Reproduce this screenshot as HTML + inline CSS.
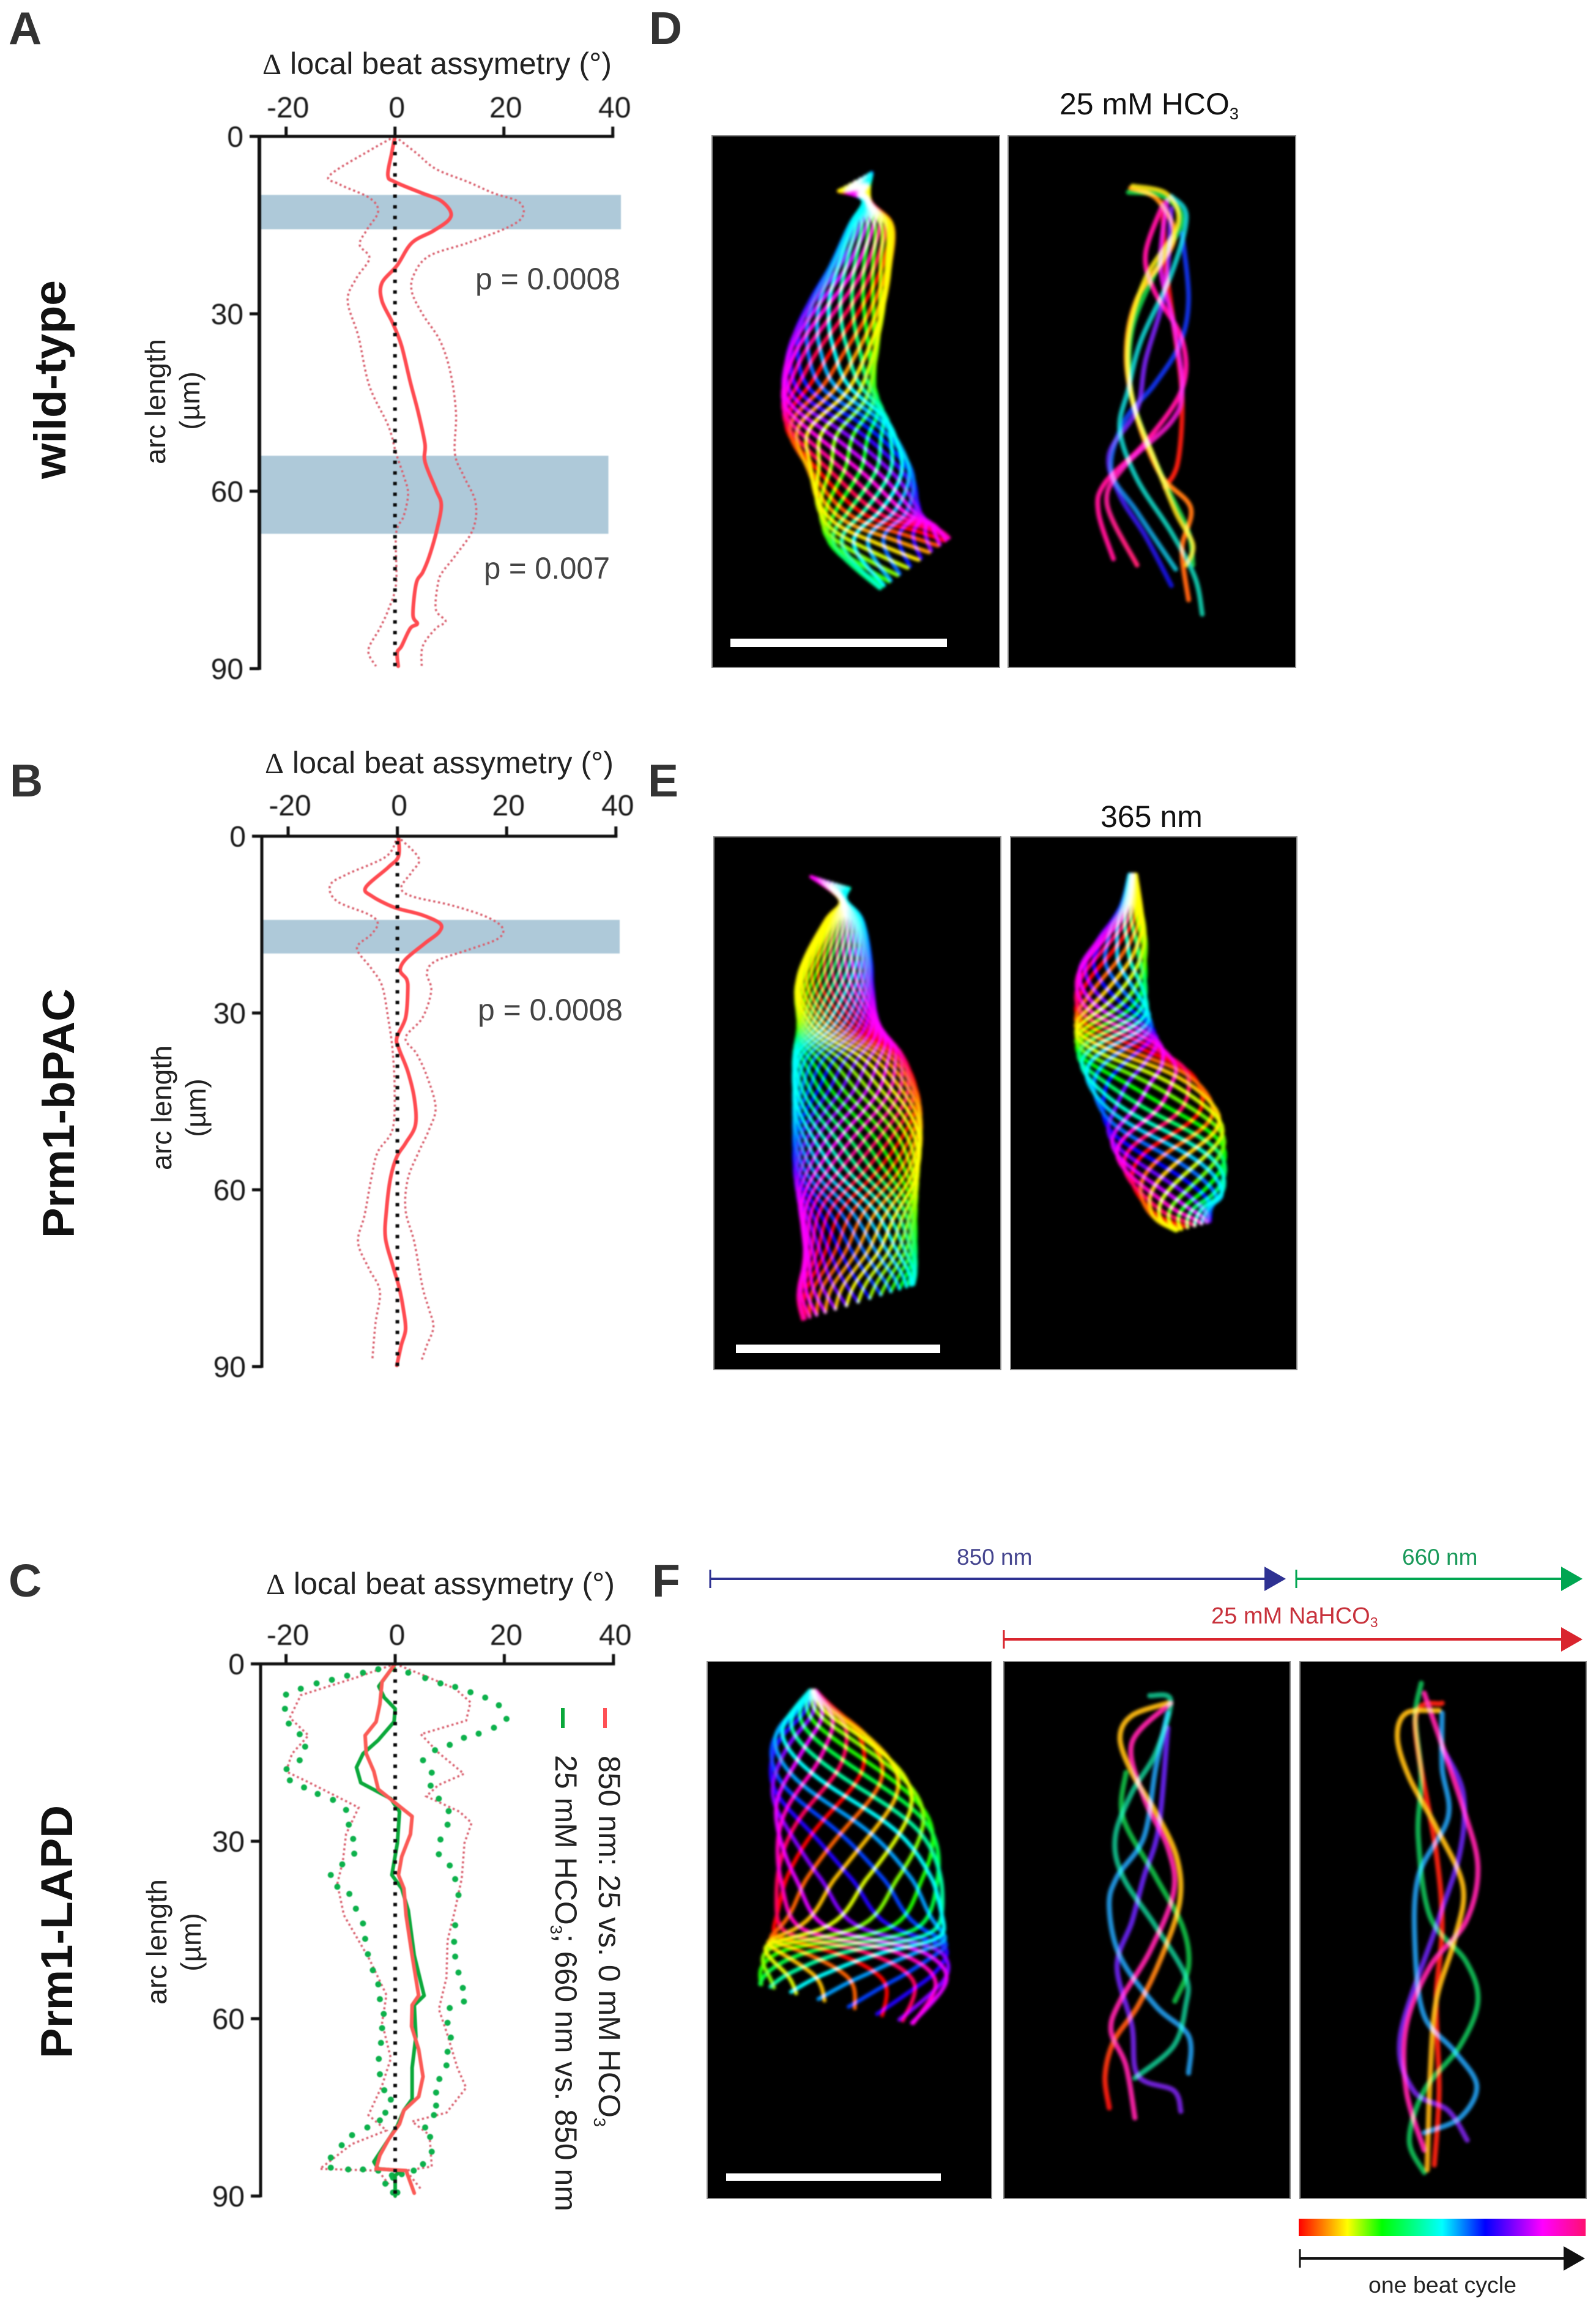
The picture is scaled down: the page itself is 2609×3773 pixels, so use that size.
<!DOCTYPE html>
<html lang="en">
<head>
<meta charset="utf-8">
<title>Local beat asymmetry and flagellar waveforms</title>
<style>
html,body{margin:0;padding:0;background:#fff;width:2609px;height:3773px;overflow:hidden}
svg{display:block;position:absolute;left:0;top:0}
text{font-family:"Liberation Sans",sans-serif;fill:#1c1c1c}
.delta{font-family:"Liberation Serif",serif;font-size:48px}
.letter{font-size:75px;font-weight:bold;fill:#333}
.rowtitle{font-size:73px;font-weight:bold;fill:#111}
.axt{font-size:50px;fill:#222}
.arc{font-size:46px;fill:#222}
.pval{font-size:50px;fill:#444}
.cond{font-size:50px;fill:#111}
.legend{font-size:50px;fill:#222}
.tick{font-size:48px;fill:#1a1a1a}
</style>
</head>
<body>
<svg id="figure" xmlns="http://www.w3.org/2000/svg" width="2609" height="3773" viewBox="0 0 2609 3773">
  <defs>
    <filter id="soft" filterUnits="userSpaceOnUse" x="1100" y="180" width="1509" height="3500" color-interpolation-filters="sRGB"><feGaussianBlur stdDeviation="2.4"/></filter>
    <filter id="lineSoft" filterUnits="userSpaceOnUse" x="0" y="0" width="1300" height="3773" color-interpolation-filters="sRGB"><feGaussianBlur stdDeviation="0.8"/></filter>
    <linearGradient id="rainbow" x1="0" x2="1" y1="0" y2="0">
      <stop offset="0" stop-color="#ff0000"/><stop offset="0.17" stop-color="#ffff00"/><stop offset="0.29" stop-color="#00ff00"/><stop offset="0.5" stop-color="#00ffff"/><stop offset="0.65" stop-color="#0000ff"/><stop offset="0.85" stop-color="#ff00ff"/><stop offset="1" stop-color="#ff1070"/>
    </linearGradient>
  </defs>
  <rect width="2609" height="3773" fill="#fff"/>

  <text class="letter" x="14" y="72">A</text>
  <text class="letter" x="16" y="1302">B</text>
  <text class="letter" x="14" y="2610">C</text>
  <text class="letter" x="1061" y="72">D</text>
  <text class="letter" x="1059" y="1302">E</text>
  <text class="letter" x="1066" y="2610">F</text>

  <text class="rowtitle" transform="translate(107,783) rotate(-90)" textLength="325" lengthAdjust="spacingAndGlyphs">wild-type</text>
  <text class="rowtitle" transform="translate(121,2024) rotate(-90)" textLength="408" lengthAdjust="spacingAndGlyphs">Prm1-bPAC</text>
  <text class="rowtitle" transform="translate(118,3365) rotate(-90)" textLength="414" lengthAdjust="spacingAndGlyphs">Prm1-LAPD</text>

  <g id="chart-a" filter="url(#lineSoft)"></g>
  <g id="chart-b" filter="url(#lineSoft)"></g>
  <g id="chart-c" filter="url(#lineSoft)"></g>

  <text class="axt" x="429" y="121" textLength="571" lengthAdjust="spacingAndGlyphs"><tspan class="delta">Δ</tspan> local beat assymetry (°)</text>
  <text class="axt" x="433" y="1264" textLength="570" lengthAdjust="spacingAndGlyphs"><tspan class="delta">Δ</tspan> local beat assymetry (°)</text>
  <text class="axt" x="435" y="2606" textLength="570" lengthAdjust="spacingAndGlyphs"><tspan class="delta">Δ</tspan> local beat assymetry (°)</text>

  <g>
    <text class="arc" transform="translate(270,759) rotate(-90)" textLength="205" lengthAdjust="spacingAndGlyphs">arc length</text>
    <text class="arc" transform="translate(326,655) rotate(-90)" text-anchor="middle">(µm)</text>
  </g>
  <g>
    <text class="arc" transform="translate(280,1913) rotate(-90)" textLength="204" lengthAdjust="spacingAndGlyphs">arc length</text>
    <text class="arc" transform="translate(336,1811) rotate(-90)" text-anchor="middle">(µm)</text>
  </g>
  <g>
    <text class="arc" transform="translate(272,3277) rotate(-90)" textLength="205" lengthAdjust="spacingAndGlyphs">arc length</text>
    <text class="arc" transform="translate(328,3175) rotate(-90)" text-anchor="middle">(µm)</text>
  </g>

  <text class="pval" x="777" y="473" textLength="237" lengthAdjust="spacingAndGlyphs">p = 0.0008</text>
  <text class="pval" x="791" y="946" textLength="206" lengthAdjust="spacingAndGlyphs">p = 0.007</text>
  <text class="pval" x="781" y="1668" textLength="237" lengthAdjust="spacingAndGlyphs">p = 0.0008</text>

  <line x1="989" x2="989" y1="2792" y2="2825" stroke="#ff5055" stroke-width="6"/>
  <text class="legend" transform="translate(979,2870) rotate(90)">850 nm: 25 vs. 0 mM HCO<tspan font-size="27" dy="8">3</tspan></text>
  <line x1="920" x2="920" y1="2792" y2="2825" stroke="#0aa83a" stroke-width="6"/>
  <text class="legend" transform="translate(908,2869) rotate(90)">25 mM HCO<tspan font-size="27" dy="8">3</tspan><tspan dy="-8">; 660 nm vs. 850 nm</tspan></text>

  <text class="cond" x="1732" y="187">25 mM HCO<tspan font-size="27" dy="8">3</tspan></text>
  <text class="cond" x="1799" y="1352">365 nm</text>

  <g id="beat-panels"></g>

  <rect x="1194" y="1044" width="354" height="14" fill="#fff"/>
  <rect x="1203" y="2198" width="334" height="14" fill="#fff"/>
  <rect x="1187" y="3553" width="351" height="12" fill="#fff"/>

  <g>
    <line x1="1161" x2="2075" y1="2581" y2="2581" stroke="#2e3192" stroke-width="4"/>
    <line x1="1161" x2="1161" y1="2566" y2="2596" stroke="#2e3192" stroke-width="3"/>
    <polygon points="2067,2561 2102,2581 2067,2601" fill="#2e3192"/>
  </g>
  <g>
    <line x1="2119" x2="2560" y1="2581" y2="2581" stroke="#00a651" stroke-width="4"/>
    <line x1="2119" x2="2119" y1="2566" y2="2596" stroke="#00a651" stroke-width="3"/>
    <polygon points="2552,2561 2587,2581 2552,2601" fill="#00a651"/>
  </g>
  <g>
    <line x1="1641" x2="2560" y1="2680" y2="2680" stroke="#d9252e" stroke-width="4"/>
    <line x1="1641" x2="1641" y1="2665" y2="2695" stroke="#d9252e" stroke-width="3"/>
    <polygon points="2552,2660 2587,2680 2552,2700" fill="#d9252e"/>
  </g>
  <text x="1564" y="2558" font-size="37" style="fill:#45458f">850 nm</text>
  <text x="2292" y="2558" font-size="37" style="fill:#1a9a5a">660 nm</text>
  <text x="1980" y="2654" font-size="38" style="fill:#c8323c">25 mM NaHCO<tspan font-size="23" dy="6">3</tspan></text>

  <rect x="2123" y="3627" width="469" height="28" fill="url(#rainbow)"/>
  <g>
    <line x1="2125" x2="2565" y1="3692" y2="3692" stroke="#111" stroke-width="4"/>
    <line x1="2125" x2="2125" y1="3677" y2="3707" stroke="#111" stroke-width="3"/>
    <polygon points="2556,3672 2591,3692 2556,3712" fill="#111"/>
  </g>
  <text x="2237" y="3748" font-size="37" style="fill:#222" textLength="242" lengthAdjust="spacingAndGlyphs">one beat cycle</text>
</svg>

<script>
// ---- chart data (arc length in µm, Δ asymmetry in degrees) ----
const xTickValues = [-20, 0, 20, 40];
const yTickValues = [0, 30, 60, 90];

const bandsA = [[9.9, 15.7, 41.5], [54, 67.2, 39.2]];
const bandsB = [[14.2, 19.9, 40.7]];

const meanA = [[0,0],[2.8,-.6],[6.6,-1.3],[7.7,0],[9.6,5],[10.8,8.3],[12.7,10.2],[14.2,9.8],[16,7],[18,3.1],[21.8,.4],[24.8,-2.4],[27.8,-2.4],[31.6,-.4],[35.4,1.2],[41.5,2.8],[46.8,4.3],[52,5.5],[55,5.5],[59.7,7.5],[62.3,8.5],[66.5,7.7],[71,6.3],[73.7,5.1],[75.6,3.9],[80.9,3.3],[82.4,4.1],[83.2,2.8],[86.2,1.2],[87.3,.4],[89.6,.6]];
const upperA = [[0,0],[2.8,3.9],[5.5,7.5],[7.7,13.4],[9.6,18.1],[11.1,22.8],[13.4,23.5],[15.3,20.9],[18,13.4],[20.2,6.3],[23.3,3.5],[26.3,3.1],[30.1,5.1],[34.6,8.3],[40,10.2],[46.8,11.2],[53.6,11],[57.4,12.6],[61.9,14.8],[66.5,14.3],[71,11],[73.7,8.7],[75.6,7.9],[80,7.5],[82,9.3],[83.2,7.5],[86.2,5.1],[89.6,4.9]];
const lowerA = [[0,0],[2.4,-4.7],[6.6,-12],[8.1,-10.2],[10.4,-4.7],[12.7,-3.1],[15.7,-5.1],[18.3,-6.5],[20.6,-4.7],[24,-7.1],[27.8,-8.7],[33.9,-6.7],[42.2,-4.7],[49,-1.2],[53.6,.2],[57.4,1.6],[60.4,2.4],[64.2,1.6],[67.2,.2],[75.6,.2],[80,-1.2],[83.2,-2.8],[86.9,-4.9],[89.6,-3.5]];

const meanB = [[0,.2],[3.4,.2],[5.3,-1.7],[8.7,-5.8],[10.2,-4.6],[12.1,-.5],[13.3,4.3],[14.8,7.8],[16.3,7.6],[18.2,5],[20.9,1.5],[22.8,.5],[24.3,1.7],[26.2,1.9],[30.8,1.5],[34.2,-.1],[36.1,.3],[39.9,1.9],[44.5,3.1],[49,3.3],[52.1,1.5],[54.4,-.1],[58.2,-1.3],[63.5,-2],[68.1,-2.2],[72.7,-.9],[76.5,.3],[80.3,1.1],[83.7,1.5],[86.4,.7],[89.8,-.1]];
const upperB = [[0,0],[3.7,3.9],[6,2.7],[8.7,.7],[10.2,2.7],[11.7,9.8],[13.6,16.1],[15.5,19.2],[17.4,18.4],[19.3,12.9],[21.2,7],[23.2,5.4],[26.2,6.2],[30.8,4.6],[34.2,1.5],[36.9,3.5],[40.7,5.4],[46,7],[49.8,5.8],[53.6,3.9],[58.2,1.9],[63.5,1.5],[68.9,3.1],[76.5,4.6],[80.3,5.8],[83.3,6.6],[86.4,5.4],[89,4.4]];
const lowerB = [[0,0],[3.4,-2],[6.4,-9.1],[8.3,-12.3],[11,-11.1],[13.3,-5.2],[14.8,-3.6],[16.7,-4.8],[19,-7.4],[22.4,-4.8],[25.4,-2.8],[30.8,-1.7],[36.1,-.9],[43,-.5],[49.8,-.9],[53.6,-3.6],[58.2,-4.8],[64.3,-6],[68.9,-7.2],[73.4,-5.2],[77.2,-3.2],[82.6,-4],[89,-4.6]];

const meanC850 = [[0,0],[3,-2.4],[6.8,-2.8],[9.8,-3.5],[12.1,-5.5],[15.2,-5.3],[18.2,-3.9],[21.2,-3.1],[23.5,0],[25.8,3.1],[28.8,2.8],[32.6,1.2],[35.7,.6],[38,1.6],[42.5,2],[49.3,3.1],[56.1,4.3],[57.7,3.1],[61.3,3],[65.2,4.3],[69.8,5.1],[73.2,4.3],[75.5,1.6],[77.8,.8],[80.4,-1.2],[83.1,-2.8],[85.4,-3.5],[85.7,2],[89.5,3.5]];
const upperC850 = [[0,0],[1.9,5.1],[4.2,11],[6.5,13.8],[9.6,13],[11.9,4.7],[15,7.9],[18.6,12.6],[20.5,7.9],[22.4,5.7],[25,11.8],[26.9,14],[30.3,12.7],[36.3,12.2],[41.5,11],[46.8,9.6],[53.1,9.4],[58.4,8],[62.2,9.4],[68.3,11.4],[71.7,13],[75.9,9.4],[77.4,3.1],[79.7,6.3],[85,6.7],[85.7,2],[88.8,4.7]];
const lowerC850 = [[0,0],[2.3,-7.1],[5.3,-17.3],[9.1,-19.3],[12.1,-15.9],[15.2,-18.9],[18.2,-20],[20.1,-15.7],[24.3,-6.7],[28.8,-9],[33.4,-9.6],[37.2,-10.6],[42.5,-9.4],[50,-4.7],[56,-1.6],[60.7,-2.4],[66.7,-.8],[71.3,-2.4],[76.3,-4.9],[78.9,-1.6],[81.2,-7.9],[85.4,-13.8],[85.7,-3.1],[88,-1.2]];

const meanC660 = [[0,0],[3.8,-3],[5.7,-2],[7.6,0],[9.8,-.2],[12.9,-3.1],[15.2,-5.9],[17.5,-7.1],[20.1,-6.3],[22.8,-.8],[25,.8],[30.3,.4],[35.7,-.6],[38,1.2],[41.7,2.4],[49.3,3.5],[56.1,5.3],[57.7,3.5],[63,3.8],[68.3,3.1],[73.6,3.1],[75.5,1.6],[78.1,.4],[80.4,-1.2],[84.2,-3.9],[85.4,-3.1],[85.7,1.2],[86.5,0],[90,0]];
const upperC660 = [[1.5,2.4],[2.4,5.5],[3.3,8.3],[3.9,11],[4.8,13.8],[5.7,16.5],[7,19],[9.3,20.4],[10.8,18.1],[11.8,15.3],[12.5,12.6],[13.7,10],[14.6,7.3],[16.3,5.1],[18.4,6.7],[20.6,6.5],[22.8,8],[24.9,9.8],[27.2,9.6],[29.7,8.3],[32.2,8],[34.1,10],[36.4,11],[39.1,11.6],[44.2,11],[47,10.8],[49.5,11],[52.2,11.6],[54.8,12.4],[57.1,12.6],[58.2,10],[60.7,9.6],[63.2,10.2],[65.6,9.6],[67.9,9.4],[70.2,8.1],[72.5,7.5],[74.7,7.5],[76.3,7.1],[78.4,5.5],[80,6.4],[82.5,6.7],[84.6,5.1],[85.7,3.4],[86.3,1.2],[86.9,-.4]];
const lowerC660 = [[.8,-.4],[.9,-3.1],[1.5,-5.9],[2,-8.8],[2.7,-11.6],[3.3,-14.4],[4.2,-17.3],[5.2,-20],[7.6,-20.2],[10.1,-19.5],[11.9,-17.5],[14,-16.5],[16.3,-17.5],[17.8,-19.9],[19.7,-19.3],[20.9,-16.7],[22,-14.2],[23,-11.4],[24.7,-9],[27.2,-8.5],[29.6,-7.7],[32.1,-7.5],[33.9,-9.7],[35.7,-11.8],[37.7,-10.6],[38.9,-8.4],[41.4,-7.2],[43.9,-5.9],[46.5,-5.5],[49.1,-5],[51.8,-4.1],[54.2,-3.1],[56.7,-2.8],[59.2,-2.1],[61.6,-2.4],[64.1,-2.6],[66.8,-3],[69.4,-2.8],[72.1,-2],[73.7,-.8],[75.9,-1.8],[77.2,-2.8],[78.4,-5.1],[79.7,-7.9],[81.4,-9.8],[83.5,-11.8],[85.2,-11.8],[85.5,-8.6],[85.5,-5.9],[85.7,-3.1],[86.5,-.6],[87.9,-1.8],[89.4,-.4],[89.4,.4]];

// ---- beat-trace envelopes: [row, left edge, right edge, phase of rightmost excursion, optional row sway] ----
const envelopeD1 = [[295,415,492,.6,22],[340,472,488,.02],[400,440,540,.08],[500,395,535,.12],[600,340,520,.18],[700,300,505,.25],[800,285,500,.33],[900,295,540,.5],[1000,345,585,.6],[1100,370,605,.72],[1160,400,640,.85,25],[1225,510,672,.92,62]];
const envelopeE1 = [[255,350,440,.4,-15],[300,418,432,.55],[350,385,470,.6],[450,335,490,.65],[530,315,495,.7],[620,320,510,.8],[700,310,565,.95],[800,310,600,1.03],[900,310,607,1.12],[1000,312,600,1.2],[1100,325,595,1.3],[1200,335,595,1.36,10],[1280,320,595,1.42,30],[1330,330,590,1.45,45]];
const envelopeE2 = [[235,1092,1108,.1],[320,1070,1120,.15],[400,1020,1130,.25],[480,975,1130,.33],[580,968,1135,.5],[680,970,1170,.83],[750,990,1240,1],[850,1030,1300,1.14],[950,1060,1315,1.33],[1050,1110,1310,1.5],[1100,1150,1285,1.6,15],[1135,1200,1280,1.7,12]];
const envelopeF1 = [[325,250,260,.95],[360,225,290,1],[420,190,350,1.1],[500,185,410,1.2],[600,195,455,1.33],[700,195,470,1.42],[800,190,475,1.5],[850,175,480,1.7,-5],[900,168,478,1.8,-15],[955,165,425,1.85,-40]];

// ---- individually traced strands for the sparse panels ----
const strandsD2 = [
  {colors: ['#ff10a0', '#ff1090'], pts: [[1170,350],[1130,470],[1150,560],[1215,680],[1215,800],[1130,930],[1035,1030],[1020,1100],[1055,1215]]},
  {colors: ['#d010d0', '#ff2070'], pts: [[1180,340],[1165,500],[1195,640],[1215,800],[1190,880],[1080,990],[1040,1080],[1110,1230]]},
  {colors: ['#7020e0', '#1010d0'], pts: [[1190,360],[1175,560],[1130,730],[1110,850],[1045,960],[1070,1060],[1130,1160],[1190,1280]]},
  {colors: ['#1030e0', '#10b0c0'], pts: [[1215,420],[1230,580],[1210,690],[1150,790],[1080,880],[1050,1000],[1110,1100],[1200,1240]]},
  {colors: ['#10c0c0', '#10c0a0'], pts: [[1190,330],[1225,380],[1190,520],[1120,680],[1090,800],[1070,900],[1110,1020],[1190,1150],[1245,1260],[1262,1350]]},
  {colors: ['#10c040', '#20c040'], pts: [[1090,320],[1170,330],[1215,390],[1160,500],[1100,650],[1095,800],[1130,920],[1180,1040],[1230,1150],[1240,1230]]},
  {colors: ['#e0d010', '#e0c010'], pts: [[1100,305],[1180,325],[1205,400],[1130,530],[1090,680],[1100,830],[1150,970],[1200,1100],[1240,1180],[1225,1230]]},
  {colors: ['#ff9010', '#ff6010'], pts: [[1095,310],[1160,340],[1195,440],[1110,580],[1085,720],[1110,870],[1165,1010],[1235,1090],[1215,1190],[1230,1315]]},
  {colors: ['#e01010', '#ff2010'], pts: [[1170,345],[1175,480],[1195,640],[1215,820],[1205,980],[1175,1040]]}
];
const strandsF2 = [
  {colors: ['#f0b010', '#f01010'], pts: [[850,350],[790,375],[770,420],[790,490],[830,570],[865,660],[870,750],[840,860],[800,960],[760,1030],[745,1100],[752,1165]]},
  {colors: ['#10b080', '#10b080'], pts: [[820,335],[855,345],[830,450],[790,530],[762,620],[775,700],[830,800],[880,900],[880,960],[860,1040],[795,1105]]},
  {colors: ['#1f8fd8', '#1f8fd8'], pts: [[850,370],[830,480],[810,620],[765,700],[752,760],[770,860],[830,960],[885,1020],[885,1095]]},
  {colors: ['#f020a0', '#f020a0'], pts: [[855,350],[790,430],[810,540],[850,640],[860,730],[820,850],[770,950],[755,1010],[780,1080],[795,1185]]},
  {colors: ['#6020e0', '#7020d0'], pts: [[850,400],[835,600],[810,700],[790,790],[765,880],[790,1000],[800,1100],[860,1130],[872,1172]]},
  {colors: ['#10b040', '#10b040'], pts: [[780,490],[775,580],[830,700],[875,800],[885,880],[862,950]]}
];
const strandsF3 = [
  {colors: ['#f0b010', '#e8a010'], pts: [[1305,365],[1250,370],[1235,420],[1255,500],[1300,600],[1345,720],[1330,830],[1300,950],[1290,1100],[1285,1290]]},
  {colors: ['#f02010', '#f02010'], pts: [[1310,350],[1265,385],[1300,650],[1310,800],[1300,950],[1305,1130],[1297,1280]]},
  {colors: ['#10b050', '#10b050'], pts: [[1275,310],[1265,380],[1275,500],[1270,620],[1290,780],[1350,870],[1370,950],[1340,1040],[1280,1130],[1255,1230],[1280,1295]]},
  {colors: ['#1f8fd8', '#1f8fd8'], pts: [[1310,370],[1310,480],[1320,580],[1270,700],[1265,850],[1280,980],[1330,1050],[1368,1120],[1340,1185],[1280,1215]]},
  {colors: ['#f020a0', '#f020a0'], pts: [[1280,330],[1300,400],[1345,560],[1370,680],[1350,790],[1290,880],[1250,1000],[1250,1130],[1280,1250]]},
  {colors: ['#6020d8', '#7020d0'], pts: [[1310,440],[1345,530],[1340,650],[1300,800],[1240,1020],[1262,1130],[1320,1170],[1352,1230]]}
];

const NS = 'http://www.w3.org/2000/svg';
function make(tag, attrs, parent) {
  const node = document.createElementNS(NS, tag);
  for (const k in attrs) node.setAttribute(k, attrs[k]);
  parent.appendChild(node);
  return node;
}
function smoothPath(xy) {
  let d = 'M' + xy[0][0].toFixed(1) + ' ' + xy[0][1].toFixed(1);
  for (let i = 0; i < xy.length - 1; i++) {
    const a = xy[Math.max(0, i - 1)], b = xy[i], c = xy[i + 1], e = xy[Math.min(xy.length - 1, i + 2)];
    d += 'C' + (b[0] + (c[0] - a[0]) / 6).toFixed(1) + ' ' + (b[1] + (c[1] - a[1]) / 6).toFixed(1) + ' ' +
      (c[0] - (e[0] - b[0]) / 6).toFixed(1) + ' ' + (c[1] - (e[1] - b[1]) / 6).toFixed(1) + ' ' +
      c[0].toFixed(1) + ' ' + c[1].toFixed(1);
  }
  return d;
}
function seriesPath(pts, X, Y, smooth) {
  const xy = pts.map(p => [X(p[1]), Y(p[0])]);
  if (smooth) return smoothPath(xy);
  return xy.map((q, i) => (i ? 'L' : 'M') + q[0].toFixed(1) + ' ' + q[1].toFixed(1)).join('');
}

function drawChart(id, geo, bands, dashed, solid, dotSeries) {
  const g = document.getElementById(id);
  const X = v => geo.zero + geo.perDeg * v;
  const Y = u => geo.top + (geo.bottom - geo.top) * u / 90;

  bands.forEach(b => {
    const r = make('rect', {x: geo.left, y: Y(b[0]), width: X(b[2]) - geo.left, height: Y(b[1]) - Y(b[0]), fill: '#aec9d9'}, g);
    
    
  });

  dashed.forEach(s => {
    const p = make('path', {d: seriesPath(s, X, Y, geo.smooth), fill: 'none', stroke: '#d9606e', 'stroke-width': 3.5, 'stroke-dasharray': '3.5 4.5'}, g);
    
    
  });

  dotSeries.forEach(s => s.forEach(d => {
    const c = make('circle', {cx: X(d[1]), cy: Y(d[0]), r: 5, fill: '#0cb14b'}, g);
    
    
  }));

  solid.forEach(s => {
    const p = make('path', {d: seriesPath(s.data, X, Y, geo.smooth), fill: 'none', stroke: s.color, 'stroke-width': 6, 'stroke-linejoin': 'round', 'stroke-linecap': 'round'}, g);
    
    
  });

  const zero = make('line', {x1: X(0), x2: X(0), y1: geo.top + 8, y2: geo.bottom, stroke: '#0a0a0a', 'stroke-width': 6, 'stroke-dasharray': '5.5 11.9'}, g);
  
  

  const xAxis = make('line', {x1: geo.left - 3, x2: X(40) + 2.5, y1: geo.top, y2: geo.top, stroke: '#111', 'stroke-width': 5}, g);
  
  
  const yAxis = make('line', {x1: geo.left, x2: geo.left, y1: geo.top - 2, y2: geo.bottom + 2, stroke: '#111', 'stroke-width': geo.axisWidth}, g);
  
  

  xTickValues.forEach(v => {
    const t = make('line', {x1: X(v), x2: X(v), y1: geo.top, y2: geo.top - 16, stroke: '#111', 'stroke-width': 5}, g);
    
    
    const l = make('text', {x: X(v) + 3, y: geo.tickBase, 'text-anchor': 'middle', class: 'tick'}, g);
    
    
    l.textContent = String(v);
  });
  yTickValues.forEach(u => {
    const t = make('line', {x1: geo.left, x2: geo.left - 16, y1: Y(u), y2: Y(u), stroke: '#111', 'stroke-width': 5}, g);
    
    
    const l = make('text', {x: geo.left - 26, y: Y(u) + 17, 'text-anchor': 'end', class: 'tick'}, g);
    
    
    l.textContent = String(u);
  });
}

drawChart('chart-a', {left: 424, zero: 645.7, perDeg: 8.9, top: 223, bottom: 1093, tickBase: 192, axisWidth: 6, smooth: true},
  bandsA, [upperA, lowerA], [{data: meanA, color: '#ff4a50', name: 'mean-line-wild-type'}], []);
drawChart('chart-b', {left: 428, zero: 649.6, perDeg: 8.93, top: 1367, bottom: 2234, tickBase: 1333, axisWidth: 5, smooth: true},
  bandsB, [upperB, lowerB], [{data: meanB, color: '#ff4a50', name: 'mean-line-prm1-bpac'}], []);
drawChart('chart-c', {left: 426, zero: 646, perDeg: 8.92, top: 2720, bottom: 3590, tickBase: 2689, axisWidth: 5, smooth: false},
  [], [upperC850, lowerC850],
  [{data: meanC660, color: '#0aa83a', name: 'mean-line-660nm'}, {data: meanC850, color: '#fb5a55', name: 'mean-line-850nm'}],
  [upperC660, lowerC660]);

// ---- beat-trace panels ----
function cr(p0, p1, p2, p3, t) {
  return 0.5 * (2 * p1 + (p2 - p0) * t + (2 * p0 - 5 * p1 + 4 * p2 - p3) * t * t + (3 * p1 - p0 - 3 * p2 + p3) * t * t * t);
}
function sample(rows, col, s) {
  const i = Math.min(Math.floor(s), rows.length - 2), f = s - i;
  const get = k => { const r = rows[Math.max(0, Math.min(rows.length - 1, k))]; return r[col] === undefined ? 0 : r[col]; };
  return cr(get(i - 1), get(i), get(i + 1), get(i + 2), f);
}
function beatPanel(box) {
  const root = document.getElementById('beat-panels');
  const g = make('g', {style: 'isolation:isolate'}, root);
  
  
  const bg = make('rect', {x: box.x, y: box.y, width: box.w, height: box.h, fill: '#000', stroke: '#8a8a8a', 'stroke-width': 2}, g);
  
  
  const traces = make('g', {filter: 'url(#soft)', style: 'isolation:isolate'}, g);
  
  
  return traces;
}
function drawBeat(box, frame, rows, count, width) {
  const traces = beatPanel(box);
  const PX = z => frame.ox + z / frame.fx, PY = z => frame.oy + z / frame.fy;
  for (let c = 0; c < count; c++) {
    const t = c / count;
    let d = '';
    const steps = 80;
    for (let k = 0; k <= steps; k++) {
      const s = (rows.length - 1) * k / steps;
      const row = sample(rows, 0, s), L = sample(rows, 1, s), R = sample(rows, 2, s), ph = sample(rows, 3, s), sway = sample(rows, 4, s);
      const ang = 2 * Math.PI * (t - ph);
      const x = (L + R) / 2 + (R - L) / 2 * Math.cos(ang);
      const y = row - sway * Math.cos(ang);
      d += (k ? 'L' : 'M') + PX(x).toFixed(1) + ' ' + PY(y).toFixed(1);
    }
    const p = make('path', {d: d, fill: 'none', stroke: 'hsl(' + (360 * t).toFixed(0) + ',100%,50%)', 'stroke-width': width, 'stroke-linecap': 'round', 'stroke-linejoin': 'round', style: 'mix-blend-mode:screen'}, traces);
    
    
  }
}
let strandGradientId = 0;
function drawStrands(box, frame, strands, width) {
  const traces = beatPanel(box);
  const defs = document.querySelector('#figure defs');
  const PX = z => frame.ox + z / frame.fx, PY = z => frame.oy + z / frame.fy;
  strands.forEach(s => {
    const xy = s.pts.map(q => [PX(q[0]), PY(q[1])]);
    const ys = xy.map(q => q[1]);
    const id = 'strand-gradient-' + (strandGradientId++);
    const grad = make('linearGradient', {id: id, gradientUnits: 'userSpaceOnUse', x1: 0, x2: 0, y1: Math.min.apply(null, ys), y2: Math.max.apply(null, ys)}, defs);
    make('stop', {offset: '0.5', 'stop-color': s.colors[0]}, grad);
    make('stop', {offset: '1', 'stop-color': s.colors[1]}, grad);
    const p = make('path', {d: smoothPath(xy), fill: 'none', stroke: 'url(#' + id + ')', 'stroke-width': width, 'stroke-linecap': 'round', 'stroke-linejoin': 'round', style: 'mix-blend-mode:screen'}, traces);
    
    
  });
}
const frameD = {ox: 1080, oy: 100, fx: 1.4255, fy: 1.4933};
const frameE = {ox: 1080, oy: 1280, fx: 1.4255, fy: 1.568};
const frameF = {ox: 1080, oy: 2500, fx: 1.0255, fy: 1.2317};
drawBeat({name: 'beat-panel-d-control', x: 1164, y: 222, w: 470, h: 869}, frameD, envelopeD1, 20, 6.5);
drawStrands({name: 'beat-panel-d-hco3', x: 1648, y: 222, w: 470, h: 869}, frameD, strandsD2, 8);
drawBeat({name: 'beat-panel-e-dark', x: 1167, y: 1368, w: 469, h: 871}, frameE, envelopeE1, 30, 5.5);
drawBeat({name: 'beat-panel-e-365nm', x: 1652, y: 1368, w: 468, h: 871}, frameE, envelopeE2, 15, 6.5);
drawBeat({name: 'beat-panel-f-850nm', x: 1156, y: 2716, w: 465, h: 878}, frameF, envelopeF1, 16, 6.5);
drawStrands({name: 'beat-panel-f-850nm-hco3', x: 1641, y: 2716, w: 468, h: 878}, frameF, strandsF2, 8.5);
drawStrands({name: 'beat-panel-f-660nm-hco3', x: 2125, y: 2716, w: 468, h: 878}, frameF, strandsF3, 8.5);
</script>
</body>
</html>
